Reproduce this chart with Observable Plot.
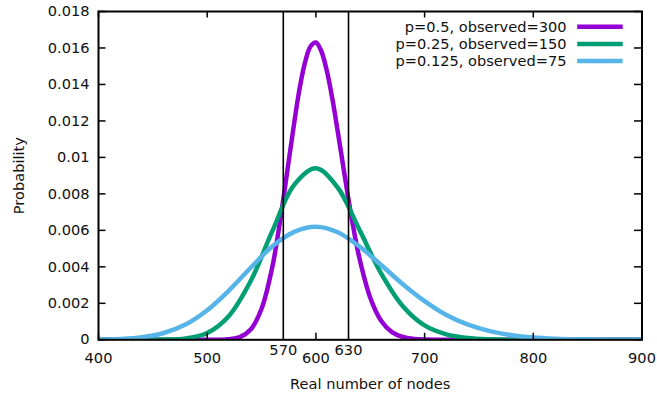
<!DOCTYPE html>
<html>
<head>
<meta charset="utf-8">
<script src="https://cdn.jsdelivr.net/npm/d3@7"></script>
<script src="https://cdn.jsdelivr.net/npm/@observablehq/plot@0.6"></script>
<style>
  html, body { margin: 0; padding: 0; background: #fff; }
  svg { font-family: "DejaVu Sans", sans-serif; }
</style>
</head>
<body>
<div id="chart"></div>
<script>
// ---- data ----
const seriesNames = ["p=0.5, observed=300", "p=0.25, observed=150", "p=0.125, observed=75"];
const seriesColors = ["#9400d3", "#009e73", "#56b4e9"];

const purpleN = [400, 450, 500, 510, 520, 530, 540, 550, 560, 565, 570, 575, 580, 585, 590, 595, 600, 605, 610, 615, 620, 625, 630, 635, 640, 650, 660, 670, 680, 690, 700, 750, 800, 900];
const purpleP = [0, 0, 0.0000004, 0.000004, 0.000028, 0.000145, 0.000565, 0.0017, 0.00402, 0.00573, 0.0077, 0.0098, 0.01188, 0.01377, 0.01521, 0.01608, 0.0163, 0.01582, 0.01476, 0.01326, 0.01145, 0.00956, 0.00768, 0.00597, 0.00449, 0.00231, 0.00105, 0.000424, 0.000154, 0.00005, 0.000015, 0, 0, 0];

const greenN = [400, 420, 440, 460, 480, 500, 520, 540, 560, 580, 600, 620, 640, 660, 680, 700, 720, 740, 760, 780, 800, 850, 900];
const greenP = [0, 0, 0.000001, 0.00001, 0.000077, 0.000376, 0.00131, 0.00322, 0.00597, 0.00849, 0.0094, 0.00835, 0.00604, 0.00364, 0.00184, 0.000787, 0.000296, 0.000096, 0.000027, 0.000007, 0.0000015, 0, 0];

const blueN = [400, 420, 440, 460, 480, 500, 520, 540, 560, 580, 600, 620, 640, 660, 680, 700, 720, 740, 760, 780, 800, 820, 840, 860, 880, 900];
const blueP = [0.00001, 0.000042, 0.000137, 0.000371, 0.000835, 0.00162, 0.0027, 0.00395, 0.00513, 0.00592, 0.0062, 0.0059, 0.00512, 0.0041, 0.00305, 0.00212, 0.00136, 0.000827, 0.000474, 0.000255, 0.000131, 0.000064, 0.00003, 0.000013, 0.0000056, 0.0000023];

const xTicks = [400, 500, 600, 700, 800, 900];
const markerLines = [570, 630];
const yTicks = [0, 0.002, 0.004, 0.006, 0.008, 0.01, 0.012, 0.014, 0.016, 0.018];
const xTitle = "Real number of nodes";
const yTitle = "Probability";

// ---- build ----
const toRows = (ns, ps, s) => ns.map((n, i) => ({n, p: ps[i], s}));
const rows = [
  ...toRows(purpleN, purpleP, seriesNames[0]),
  ...toRows(greenN, greenP, seriesNames[1]),
  ...toRows(blueN, blueP, seriesNames[2])
];

const W = 657, H = 399;
const mL = 98, mR = 15.5, mT = 11, mB = 59.7;
const plotH = H - mT - mB, plotW = W - mL - mR;
const FS = 14.6;
const tickLen = 6.5;
const fmtY = d => String(+d.toFixed(3));

function legend(index, scales, values, dim) {
  const g = d3.create("svg:g");
  const right = dim.width - dim.marginRight;
  seriesNames.forEach((name, i) => {
    const y = dim.marginTop + 15.7 + i * 17.2;
    g.append("text")
      .attr("x", right - 75).attr("y", y).attr("dy", "0.35em")
      .attr("text-anchor", "end").attr("font-size", FS).attr("fill", "#111")
      .text(name);
    g.append("line")
      .attr("x1", right - 64.3).attr("x2", right - 18.8)
      .attr("y1", y).attr("y2", y)
      .attr("stroke", seriesColors[i]).attr("stroke-width", 4.5);
  });
  return g.node();
}

const chart = Plot.plot({
  width: W, height: H,
  marginLeft: mL, marginRight: mR, marginTop: mT, marginBottom: mB,
  style: {fontFamily: "DejaVu Sans, sans-serif", fontSize: FS + "px", color: "#111", background: "#fff"},
  x: {domain: [400, 900], axis: null},
  y: {domain: [0, 0.018], axis: null},
  color: {domain: seriesNames, range: seriesColors},
  marks: [
    Plot.line(rows, {x: "n", y: "p", z: "s", stroke: "s", strokeWidth: 4.5, curve: "catmull-rom", clip: true}),
    Plot.ruleX(markerLines, {x: d => d, stroke: "#000", strokeWidth: 1.6}),
    // inner ticks
    Plot.tickX(xTicks, {x: d => d, insetTop: plotH - tickLen, stroke: "#000", strokeWidth: 1.5}),
    Plot.tickX(xTicks, {x: d => d, insetBottom: plotH - tickLen, stroke: "#000", strokeWidth: 1.5}),
    Plot.tickY(yTicks, {y: d => d, insetRight: plotW - tickLen - 1, stroke: "#000", strokeWidth: 1.5}),
    Plot.tickY(yTicks, {y: d => d, insetLeft: plotW - tickLen - 1, stroke: "#000", strokeWidth: 1.5}),
    Plot.frame({stroke: "#000", strokeWidth: 2}),
    // tick labels
    Plot.text(xTicks, {x: d => d, frameAnchor: "bottom", lineAnchor: "middle", dy: 19, text: d => String(d), fontSize: FS, fill: "#111"}),
    Plot.text(markerLines, {x: d => d, frameAnchor: "bottom", lineAnchor: "middle", dy: 11, text: d => String(d), fontSize: FS, fill: "#111"}),
    Plot.text(yTicks, {y: d => d, frameAnchor: "left", lineAnchor: "middle", textAnchor: "end", dx: -9, dy: 0, text: fmtY, fontSize: FS, fill: "#111"}),
    // titles
    Plot.text([xTitle], {frameAnchor: "bottom", lineAnchor: "middle", textAnchor: "middle", dy: 45, text: d => d, fontSize: FS, fill: "#111"}),
    Plot.text([yTitle], {frameAnchor: "left", lineAnchor: "middle", textAnchor: "middle", dx: -79.5, rotate: -90, text: d => d, fontSize: FS, fill: "#111"}),
    legend
  ]
});
document.getElementById("chart").appendChild(chart);
</script>
</body>
</html>
